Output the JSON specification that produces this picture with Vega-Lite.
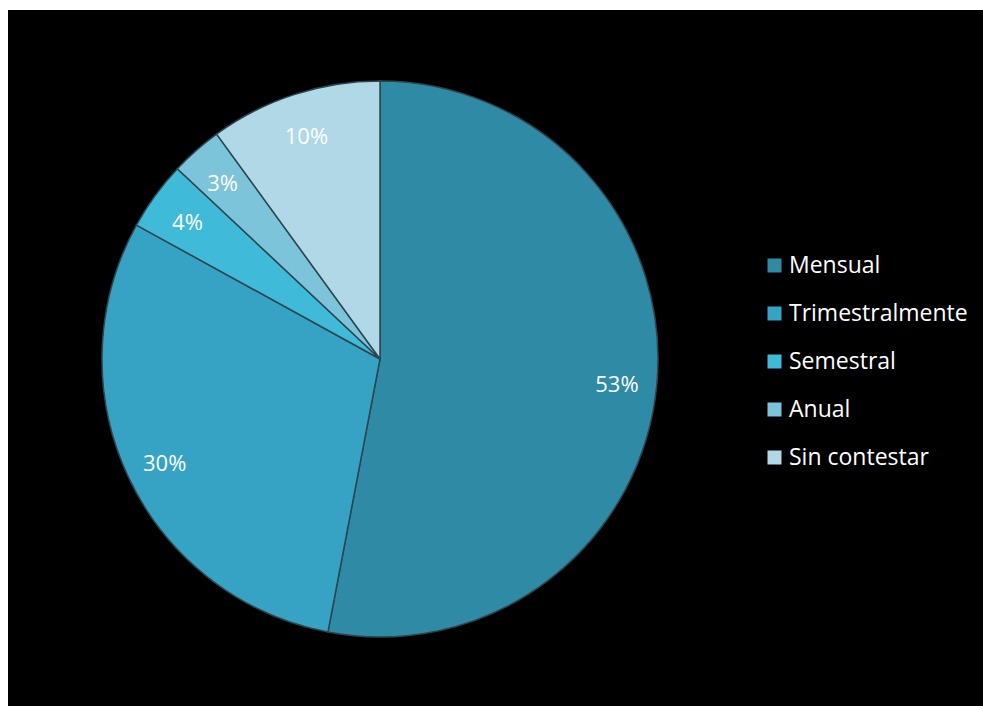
{
  "$schema": "https://vega.github.io/schema/vega-lite/v6.json",
  "background": "white",
  "padding": {"left": 8, "top": 10, "right": 0, "bottom": 0},
  "spacing": 0,
  "config": {
    "view": {"fill": "black", "stroke": null},
    "font": "Open Sans"
  },
  "datasets": {
    "respuestas": [
      {"categoria": "Mensual", "valor": 0.53, "orden": 1},
      {"categoria": "Trimestralmente", "valor": 0.30, "orden": 2},
      {"categoria": "Semestral", "valor": 0.04, "orden": 3},
      {"categoria": "Anual", "valor": 0.03, "orden": 4},
      {"categoria": "Sin contestar", "valor": 0.10, "orden": 5}
    ]
  },
  "hconcat": [
    {
      "width": 744,
      "height": 698,
      "view": {"fill": "black", "stroke": null},
      "data": {"name": "respuestas"},
      "encoding": {
        "theta": {"field": "valor", "type": "quantitative", "stack": true},
        "order": {"field": "orden", "type": "quantitative"}
      },
      "layer": [
        {
          "mark": {"type": "arc", "outerRadius": 278, "stroke": "#2c464e", "strokeWidth": 1.5},
          "encoding": {
            "color": {
              "field": "categoria",
              "type": "nominal",
              "sort": ["Mensual", "Trimestralmente", "Semestral", "Anual", "Sin contestar"],
              "scale": {
                "domain": ["Mensual", "Trimestralmente", "Semestral", "Anual", "Sin contestar"],
                "range": ["#2e8aa5", "#37a3c4", "#3fbad9", "#7cc4da", "#b1d8e7"]
              },
              "legend": {
                "title": null,
                "orient": "none",
                "legendX": 755,
                "legendY": 244,
                "padding": 0,
                "symbolType": "square",
                "symbolSize": 196,
                "symbolStrokeWidth": 0,
                "symbolOpacity": 1,
                "labelColor": "white",
                "labelFont": "Open Sans",
                "labelFontSize": 23,
                "labelOffset": 3,
                "rowPadding": 24,
                "labelLimit": 300
              }
            }
          }
        },
        {
          "mark": {"type": "text", "radius": 238, "fontSize": 22, "color": "white", "font": "Open Sans", "dy": 4},
          "encoding": {
            "text": {"field": "valor", "type": "quantitative", "format": ".0%"}
          }
        }
      ]
    },
    {
      "width": 231,
      "height": 698,
      "view": {"fill": "black", "stroke": null},
      "data": {"values": [{}]},
      "mark": {"type": "point", "opacity": 0},
      "encoding": {}
    }
  ]
}
